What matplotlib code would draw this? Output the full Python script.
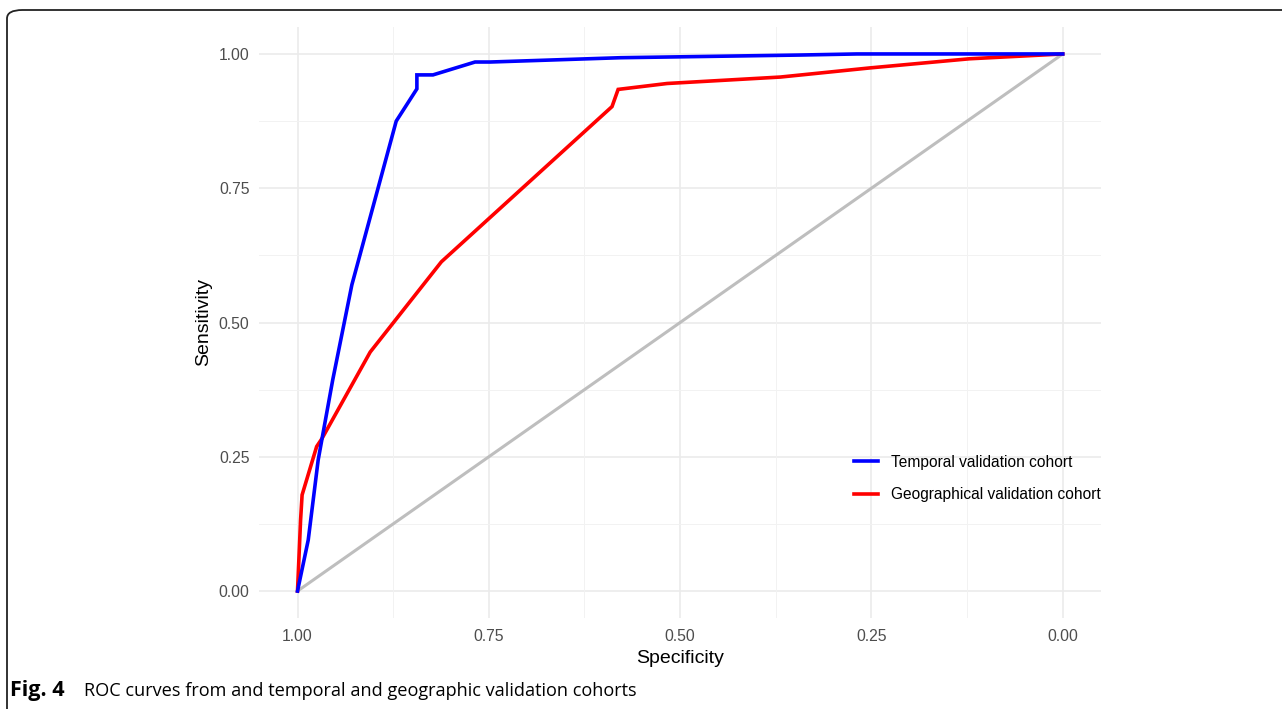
import matplotlib
matplotlib.use("Agg")
import matplotlib.pyplot as plt
from matplotlib.patches import FancyBboxPatch
from matplotlib.lines import Line2D

# ROC curve points (specificity, sensitivity)
temporal_spec = [1.0, 0.986, 0.973, 0.954, 0.929, 0.871, 0.844, 0.844, 0.823, 0.768, 0.748, 0.578, 0.343, 0.269, 0.0]
temporal_sens = [0.0, 0.095, 0.244, 0.393, 0.570, 0.875, 0.935, 0.961, 0.961, 0.985, 0.985, 0.993, 0.998, 1.0, 1.0]

geo_spec = [1.0, 0.996, 0.994, 0.975, 0.968, 0.905, 0.812, 0.589, 0.581, 0.517, 0.369, 0.252, 0.122, 0.0]
geo_sens = [0.0, 0.132, 0.179, 0.269, 0.284, 0.445, 0.613, 0.902, 0.934, 0.945, 0.957, 0.974, 0.991, 1.0]

ref_spec = [1.0, 0.0]
ref_sens = [0.0, 1.0]

series_labels = ["Temporal validation cohort", "Geographical validation cohort"]
series_colors = ["#0000ff", "#ff0000"]

tick_values = [1.00, 0.75, 0.50, 0.25, 0.00]
tick_labels = ["1.00", "0.75", "0.50", "0.25", "0.00"]
minor_values = [0.875, 0.625, 0.375, 0.125]

caption_bold = "Fig. 4"
caption_text = "ROC curves from and temporal and geographic validation cohorts"

plt.rcParams["font.family"] = ["Liberation Sans", "DejaVu Sans"]

W, H = 1282, 709
fig = plt.figure(figsize=(W / 100, H / 100), dpi=100)
fig.patch.set_facecolor("white")

# rounded frame around the figure (only top and left edges fall on the canvas)
frame = FancyBboxPatch((7 / W, -40 / H), 1.2, (H - 10 + 40) / H,
                       boxstyle="round,pad=0,rounding_size=0.012",
                       transform=fig.transFigure, fill=False,
                       edgecolor="#222222", linewidth=1.3)
fig.patches.append(frame)

ax = fig.add_axes([259.25 / W, 1 - 617.9 / H, (1101 - 259.25) / W, (617.9 - 27.1) / H])
ax.set_xlim(1.05, -0.05)
ax.set_ylim(-0.05, 1.05)

for s in ax.spines.values():
    s.set_visible(False)

# grid (theme_minimal style)
for v in tick_values:
    ax.axvline(v, color="#ebebeb", lw=1.2, zorder=0)
    ax.axhline(v, color="#ebebeb", lw=1.2, zorder=0)
for v in minor_values:
    ax.axvline(v, color="#f2f2f2", lw=0.7, zorder=0)
    ax.axhline(v, color="#f2f2f2", lw=0.7, zorder=0)

ax.plot(ref_spec, ref_sens, color="#bebebe", lw=2.2, solid_capstyle="butt", zorder=1)
ax.plot(temporal_spec, temporal_sens, color=series_colors[0], lw=2.6, zorder=3,
        solid_joinstyle="miter")
ax.plot(geo_spec, geo_sens, color=series_colors[1], lw=2.6, zorder=2,
        solid_joinstyle="miter")

ax.set_xticks(tick_values)
ax.set_xticklabels(tick_labels)
ax.set_yticks(tick_values)
ax.set_yticklabels(tick_labels)
ax.tick_params(axis="both", length=0, labelsize=11.3, labelcolor="#4d4d4d")
ax.tick_params(axis="x", pad=8)
ax.tick_params(axis="y", pad=7)

ax.set_xlabel("Specificity", fontsize=14, color="black", labelpad=4)
ax.set_ylabel("Sensitivity", fontsize=14, color="black", labelpad=5)

handles = [Line2D([0], [0], color=c, lw=2.6) for c in series_colors]
leg = fig.legend(handles, series_labels, loc="center left",
                 bbox_to_anchor=(840 / W, 1 - 478.5 / H), frameon=False,
                 fontsize=11.2, handlelength=1.55, handletextpad=0.8,
                 labelspacing=1.15)

fig.text(10 / W, 1 - 696 / H, caption_bold, fontsize=15.5, fontweight="bold",
         family=["Open Sans", "DejaVu Sans"], va="baseline", ha="left")
fig.text(84 / W, 1 - 696 / H, caption_text, fontsize=13.1,
         family=["Open Sans", "DejaVu Sans"], va="baseline", ha="left")

fig.savefig("out.png", dpi=100, facecolor="white")
